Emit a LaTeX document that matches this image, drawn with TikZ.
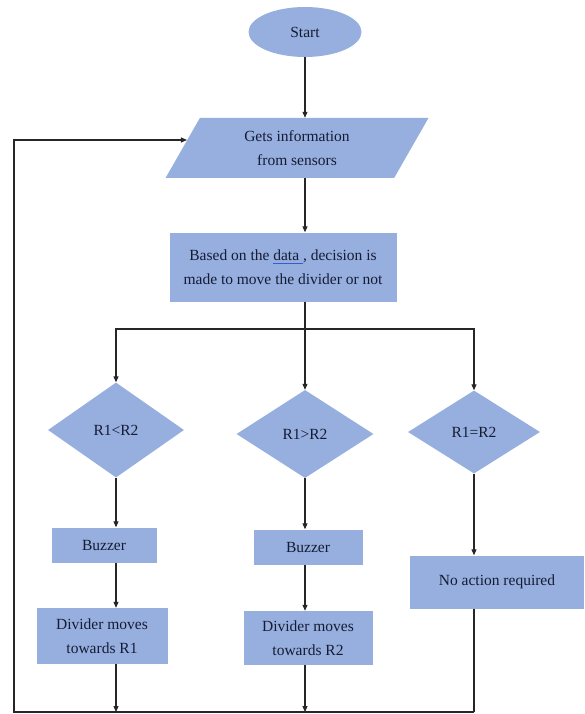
\documentclass[tikz,border=0pt]{standalone}
\usepackage{fontspec}
\setmainfont{Liberation Serif}
\usetikzlibrary{shapes.geometric,arrows.meta,calc}
\definecolor{boxfill}{RGB}{150,175,222}
\definecolor{txt}{RGB}{22,27,52}
\definecolor{ulblue}{RGB}{60,90,200}
\newcommand\myul[1]{\setbox0\hbox{#1}\rlap{\color{ulblue}\rule[-3pt]{\wd0}{0.7pt}}\box0}
\tikzset{
  base/.style={fill=boxfill, draw=none, text=txt, font=\fontsize{15.5}{24}\selectfont, align=center, inner sep=0pt},
  procbox/.style={base, rectangle},
  decbox/.style={base, diamond},
  startbox/.style={base, ellipse},
  iobox/.style={base, trapezium, trapezium stretches=true, trapezium left angle=62, trapezium right angle=118},
  conn/.style={line width=1.1pt, draw=black!85},
  arr/.style={conn, -{Triangle[length=6pt,width=5pt]}}
}
\begin{document}
\begin{tikzpicture}[x=1pt,y=-1pt]
\useasboundingbox (0,0) rectangle (584,714);
\node[startbox, minimum width=113pt, minimum height=50pt] (start) at (305,32) {Start};
\node[iobox, minimum width=263pt, minimum height=60pt] (in) at (297,148) {Gets information\\from sensors};
\node[procbox, minimum width=227pt, minimum height=69pt] (dec) at (283,267) {Based on the \myul{data\ }, decision is\\made to move the divider or not};
\coordinate (split) at (305,329);
\node[decbox, minimum width=136pt, minimum height=95pt] (d1) at (116,430) {R1<R2};
\node[decbox, minimum width=137pt, minimum height=88pt] (d2) at (305,434) {R1>R2};
\node[decbox, minimum width=132pt, minimum height=83pt] (d3) at (474,432) {R1=R2};
\node[procbox, minimum width=105pt, minimum height=35pt] (b1) at (104,545) {Buzzer};
\node[procbox, minimum width=131pt, minimum height=56pt] (v1) at (102,636) {Divider moves\\towards R1};
\node[procbox, minimum width=109pt, minimum height=35pt] (b2) at (308,547) {Buzzer};
\node[procbox, minimum width=129pt, minimum height=54pt] (v2) at (308,638) {Divider moves\\towards R2};
\node[procbox, minimum width=174pt, minimum height=53pt] (na) at (497,582) {No action required};
\coordinate (bl) at (14,712);
\coordinate (br) at (474,712);
\coordinate (loop) at (14,140);
\coordinate (inedge) at ($(in.top left corner)!0.37!(in.bottom left corner)$);
% spine
\draw[arr] (start.south) -- (start.south |- in.north);
\draw[arr] (in.south -| start) -- (dec.north -| start);
\draw[conn] (dec.south -| split) -- (split);
\draw[arr] (split) -| (d1.north);
\draw[arr] (split) -- (d2.north);
\draw[arr] (split) -| (d3.north);
% left branch
\draw[arr] (d1.south) -- (d1.south |- b1.north);
\draw[arr] (b1.south -| d1) -- (v1.north -| d1);
\draw[arr] (v1.south -| d1) -- (d1 |- bl);
% middle branch
\draw[arr] (d2.south) -- (d2.south |- b2.north);
\draw[arr] (b2.south -| d2) -- (v2.north -| d2);
\draw[arr] (v2.south -| d2) -- (d2 |- bl);
% right branch
\draw[arr] (d3.south) -- (d3.south |- na.north);
\draw[conn] (na.south -| d3) -- (br);
% return loop
\draw[arr] (br) -- (bl) -- (loop) -- (loop -| inedge);
\end{tikzpicture}
\end{document}
